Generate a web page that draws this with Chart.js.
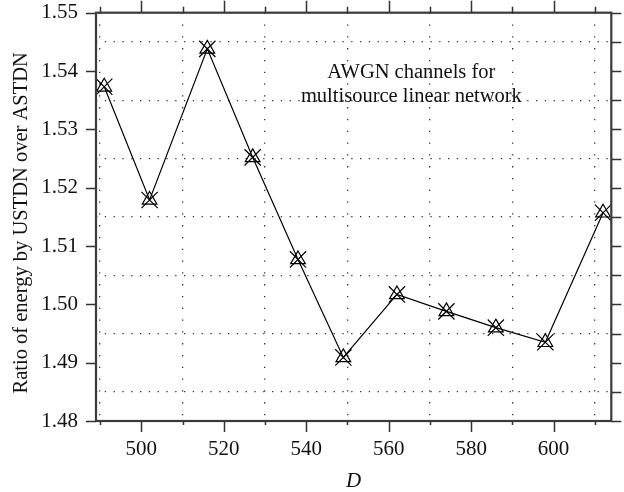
<!DOCTYPE html>
<html>
<head>
<meta charset="utf-8">
<script src="https://cdn.jsdelivr.net/npm/chart.js@4"></script>
<style>
  html, body { margin: 0; padding: 0; background: #fff; }
  #wrap { width: 624px; height: 492px; }
</style>
</head>
<body>
<div id="wrap"><canvas id="chart"></canvas></div>
<script>
/* ── data ── */
const D_VALUES = [491, 502, 516, 527, 538, 549, 562, 574, 586, 598, 612];
const RATIO    = [1.5373, 1.5179, 1.5438, 1.5252, 1.5077, 1.4909, 1.5017, 1.4988, 1.4960, 1.4935, 1.5157];
const X_MIN = 489, X_MAX = 614;
const Y_MIN = 1.48, Y_MAX = 1.55;
const NOTE_LINES = ['AWGN channels for', 'multisource linear network'];
const Y_TITLE = 'Ratio of energy by USTDN over ASTDN';

const SERIF = '"Liberation Serif", "DejaVu Serif", serif';
const points = D_VALUES.map((x, i) => ({ x, y: RATIO[i] }));

const isMajorX = v => Math.round(v) % 20 === 0;
const isMajorY = v => Math.round(v * 1000) % 10 === 0;

/* ── frame, outward ticks, y title and note ── */
Chart.register({
  id: 'frame',
  afterDraw(chart) {
    const { ctx, chartArea: a, scales } = chart;
    const xs = scales.x, ys = scales.y;
    ctx.save();
    ctx.strokeStyle = '#333';
    ctx.lineWidth = 1.5;
    ctx.beginPath();
    for (let v = 490; v <= 610; v += 10) {
      const px = Math.round(xs.getPixelForValue(v)) + 0.5;
      const maj = isMajorX(v);
      ctx.moveTo(px, a.top); ctx.lineTo(px, a.top - (maj ? 12 : 6));
      ctx.moveTo(px, a.bottom); ctx.lineTo(px, a.bottom + (maj ? 11 : 4));
    }
    for (let i = 0; i <= 14; i++) {
      const v = Y_MIN + i * 0.005;
      const py = Math.round(ys.getPixelForValue(v)) + 0.5;
      if (i % 2 === 0) { ctx.moveTo(a.left, py); ctx.lineTo(a.left - 10, py); }
      ctx.moveTo(a.right, py); ctx.lineTo(a.right + 10, py);
    }
    ctx.stroke();

    ctx.lineWidth = 2.2;
    ctx.strokeStyle = '#3a3a3a';
    ctx.strokeRect(a.left, a.top, a.right - a.left, a.bottom - a.top);

    ctx.fillStyle = '#111';
    ctx.textAlign = 'center';
    ctx.textBaseline = 'middle';

    // y axis title
    ctx.save();
    ctx.font = '20.5px ' + SERIF;
    ctx.translate(22, (a.top + a.bottom) / 2 + 6);
    ctx.rotate(-Math.PI / 2);
    ctx.fillText(Y_TITLE, 0, 0);
    ctx.restore();

    // note
    ctx.font = '20.5px ' + SERIF;
    const cx = xs.getPixelForValue(565.5);
    const cy = ys.getPixelForValue(1.5397);
    NOTE_LINES.forEach((t, i) => ctx.fillText(t, cx, cy + i * 24));
    ctx.restore();
  },
});

new Chart(document.getElementById('chart'), {
  type: 'line',
  data: {
    datasets: [
      {
        label: 'ratio',
        data: points,
        borderColor: '#000',
        borderWidth: 1.2,
        pointStyle: 'triangle',
        pointRadius: 8.5,
        pointBorderWidth: 1.2,
        pointBorderColor: '#000',
        pointBackgroundColor: 'rgba(0,0,0,0)',
        tension: 0,
      },
      {
        label: 'ratio-x',
        data: points,
        showLine: false,
        pointStyle: 'crossRot',
        pointRadius: 11.5,
        pointBorderWidth: 1.2,
        pointBorderColor: '#000',
      },
    ],
  },
  options: {
    animation: false,
    responsive: true,
    maintainAspectRatio: false,
    layout: { padding: { top: 12, right: 12, left: 0, bottom: 0 } },
    plugins: { legend: { display: false }, tooltip: { enabled: false } },
    scales: {
      x: {
        type: 'linear', min: X_MIN, max: X_MAX,
        afterFit: s => { s.height = 71; s.paddingLeft = 0; s.paddingRight = 0; },
        ticks: {
          stepSize: 10, includeBounds: false, autoSkip: false, maxRotation: 0,
          color: '#111', padding: 16,
          font: { family: SERIF, size: 21 },
          callback: v => isMajorX(v) ? String(v) : '',
        },
        grid: {
          drawTicks: false,
          lineWidth: 1.3,
          color: c => (c.tick && !isMajorX(c.tick.value)) ? '#333' : 'rgba(0,0,0,0)',
        },
        border: { display: false, dash: [1.3, 10.5] },
        title: {
          display: true, text: 'D', color: '#111', padding: { top: 0, bottom: -2 },
          font: { family: SERIF, size: 21, style: 'italic' },
        },
      },
      y: {
        min: Y_MIN, max: Y_MAX,
        afterFit: s => { s.width = 96; s.paddingTop = 0; s.paddingBottom = 0; },
        ticks: {
          stepSize: 0.005, autoSkip: false, color: '#111', padding: 18,
          font: { family: SERIF, size: 21 },
          callback: v => isMajorY(v) ? v.toFixed(2) : '',
        },
        grid: {
          drawTicks: false,
          lineWidth: 1.3,
          color: c => (c.tick && !isMajorY(c.tick.value)) ? '#333' : 'rgba(0,0,0,0)',
        },
        border: { display: false, dash: [1.3, 7.5] },
      },
    },
  },
});
</script>
</body>
</html>
